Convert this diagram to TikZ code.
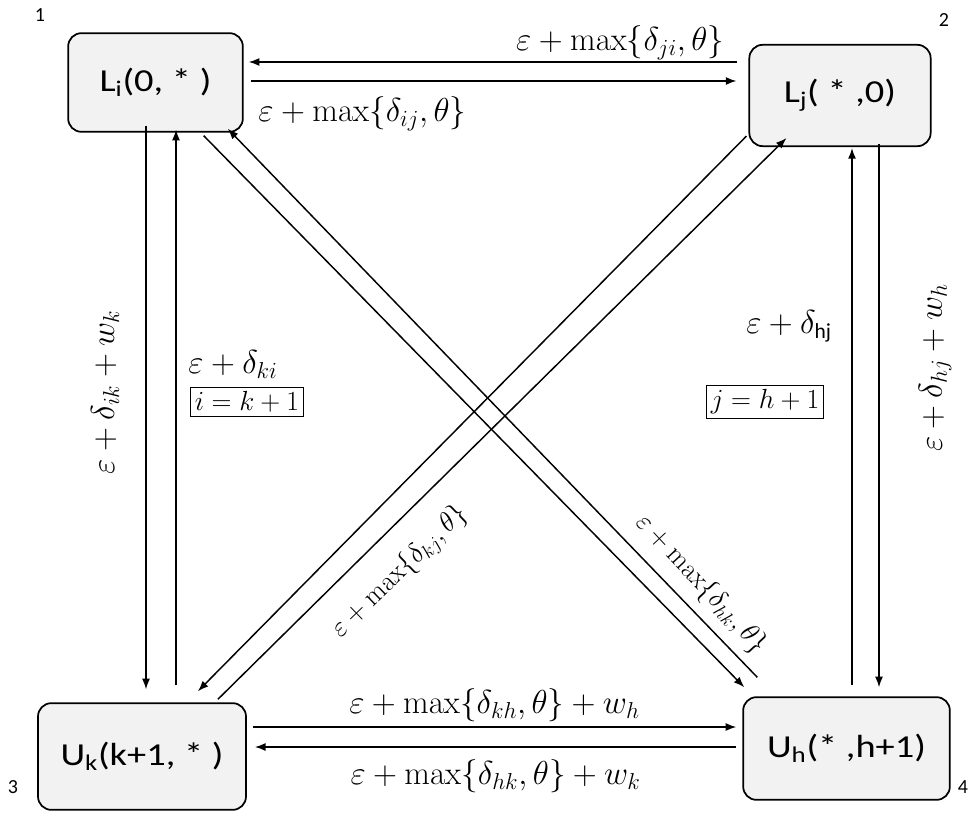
\documentclass[tikz,border=0pt]{standalone}
\usepackage{amsmath}
\usepackage[no-math]{fontspec}
\setmainfont{Carlito}
\newfontfamily\boxfont[FakeStretch=1.2]{Carlito}
\usetikzlibrary{arrows.meta,positioning,calc}
\definecolor{boxgray}{HTML}{F2F2F2}
\tikzset{
  statebox/.style={draw, line width=1.3pt, rounded corners=10pt, fill=boxgray, align=center, inner sep=2pt, font=\boxfont\fontsize{24}{28}\selectfont},
  costmsg/.style={-{Latex[length=8pt,width=6pt]}, line width=1.1pt},
  costlabel/.style={inner sep=1pt, font=\fontsize{23}{27}\selectfont},
  widelabel/.style={inner sep=1pt, font=\fontsize{25}{29}\selectfont},
  slopelabel/.style={inner sep=1pt, font=\fontsize{19.5}{23}\selectfont},
  condbox/.style={draw, line width=0.7pt, inner sep=3pt, font=\fontsize{21}{24}\selectfont},
  cornerlabel/.style={inner sep=0pt, font=\fontsize{15}{17}\selectfont}
}

\begin{document}
\begin{tikzpicture}[x=0.75pt, y=-0.75pt]
\useasboundingbox (0,0) rectangle (977,816);
% states
\node[statebox, minimum width=131pt, minimum height=74pt] (Li) at (155.5,82.5) {L\textsubscript{i}(0, * )};
\node[statebox, minimum width=136pt, minimum height=76pt] (Lj) at (840,95.5) {L\textsubscript{j}( * ,0)};
\node[statebox, minimum width=156pt, minimum height=80pt] (Uk) at (142,756.5) {U\textsubscript{k}(k+1, * )};
\node[statebox, minimum width=155pt, minimum height=77pt] (Uh) at (846.5,748.5) {U\textsubscript{h}(* ,h+1)};
\node[cornerlabel] (n1) at (40,15) {1};
\node[cornerlabel] (n2) at (944,20) {2};
\node[cornerlabel] (n3) at (13,787) {3};
\node[cornerlabel] (n4) at (963,787) {4};
% top pair
\draw[costmsg] ($(Lj.west)+(-11,-33.5)$) -- node[costlabel, pos=0.24, above] {$\varepsilon+\max\{\delta_{ji},\theta\}$} ($(Li.east)+(5,-20.5)$);
\draw[costmsg] ($(Li.east)+(7,-1.5)$) -- node[costlabel, pos=0.23, below=10pt] {$\varepsilon+\max\{\delta_{ij},\theta\}$} ($(Lj.west)+(-12,-14.5)$);
% left pair
\draw[costmsg] ($(Li.south)+(-9.5,-7)$) -- ($(Uk.north)+(4,-13)$);
\draw[costmsg] ($(Uk.north)+(34,-17)$) -- ($(Li.south)+(20.5,-3)$);
\node[widelabel, rotate=90] (lik) at (105,392) {$\varepsilon+\delta_{ik}+w_k$};
\node[costlabel] (lki) at (233,364) {$\varepsilon+\delta_{ki}$};
\node[condbox] (cik) at (247,402) {$i=k+1$};
% right pair
\draw[costmsg] ($(Uh.north)+(5.5,-11)$) -- ($(Lj.south)+(12,1)$);
\draw[costmsg] ($(Lj.south)+(39,-3)$) -- ($(Uh.north)+(32.5,-9)$);
\node[widelabel, rotate=90] (lhjw) at (935,368) {$\varepsilon+\delta_{hj}+w_h$};
\node[costlabel] (lhj) at (789,326) {$\varepsilon+\delta_{\text{hj}}$};
\node[condbox] (cjh) at (765,402) {$j=h+1$};
% diagonals
\draw[costmsg] ($(Li.south east)+(-40,3)$) -- ($(Uh.north west)+(2,-9)$);
\draw[costmsg] ($(Uh.north west)+(15,-19)$) -- ($(Li.south east)+(-16,-4)$);
\draw[costmsg] ($(Lj.south west)+(-2,-11)$) -- ($(Uk.north east)+(-49,-11)$);
\draw[costmsg] ($(Uk.north east)+(-29,-3)$) -- ($(Lj.south west)+(38,-9)$);
\node[slopelabel, rotate=44] (lkj) at (400,572) {$\varepsilon+\max\{\delta_{kj},\theta\}$};
\node[slopelabel, rotate=-47] (lhk) at (701,584) {$\varepsilon+\max\{\delta_{hk},\theta\}$};
% bottom pair
\draw[costmsg] ($(Uk.east)+(6,-29.5)$) -- node[widelabel, pos=0.5, above=2pt] {$\varepsilon+\max\{\delta_{kh},\theta\}+w_h$} ($(Uh.west)+(-6,-21.5)$);
\draw[costmsg] ($(Uh.west)+(-6,-1.5)$) -- node[widelabel, pos=0.5, below=8pt] {$\varepsilon+\max\{\delta_{hk},\theta\}+w_k$} ($(Uk.east)+(8,-9.5)$);
\end{tikzpicture}
\end{document}
